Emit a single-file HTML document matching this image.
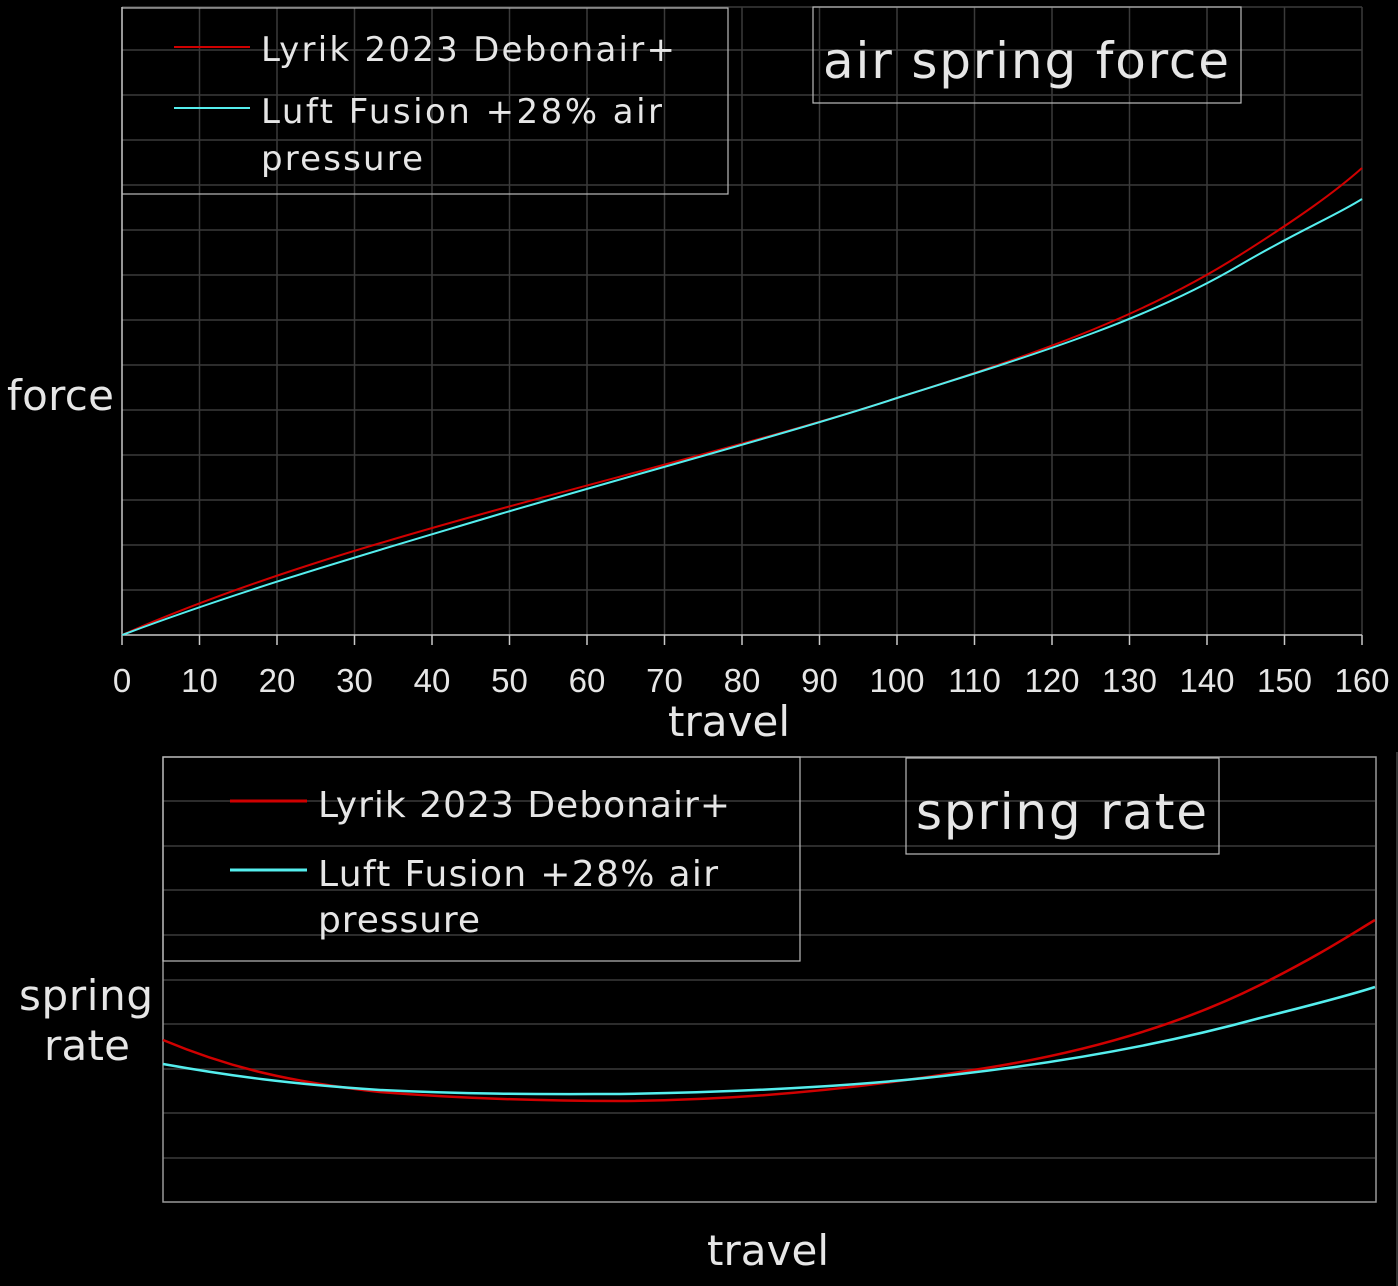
<!DOCTYPE html>
<html><head><meta charset="utf-8"><style>
html,body{margin:0;padding:0;background:#000;}
svg{display:block}
text{fill:#e6e6e6}
.v{font-family:"DejaVu Sans",Verdana,sans-serif}
.a{font-family:"Liberation Sans",Arial,sans-serif}
</style></head><body>
<svg width="1398" height="1286" viewBox="0 0 1398 1286" xmlns="http://www.w3.org/2000/svg">
<rect width="1398" height="1286" fill="#000"/>
<g stroke="#3a3a3a" stroke-width="1.5">
<path d="M122 590H1362M122 545H1362M122 500H1362M122 455H1362M122 410H1362M122 365H1362M122 320H1362M122 275H1362M122 230H1362M122 185H1362M122 140H1362M122 95H1362M122 50H1362M122 7H1362"/>
<path d="M199.5 7V635M277 7V635M354.5 7V635M432 7V635M509.5 7V635M587 7V635M664.5 7V635M742 7V635M819.5 7V635M897 7V635M974.5 7V635M1052 7V635M1129.5 7V635M1207 7V635M1284.5 7V635M1362 7V635"/>
</g>
<g stroke="#c8c8c8" stroke-width="1.5" fill="none">
<path d="M122 7V645M122 635H1362"/>
<path d="M199.5 635V645M277 635V645M354.5 635V645M432 635V645M509.5 635V645M587 635V645M664.5 635V645M742 635V645M819.5 635V645M897 635V645M974.5 635V645M1052 635V645M1129.5 635V645M1207 635V645M1284.5 635V645M1362 635V645"/>
</g>
<g class="a" font-size="33" text-anchor="middle">
<text x="122" y="692">0</text><text x="199.5" y="692">10</text><text x="277" y="692">20</text><text x="354.5" y="692">30</text><text x="432" y="692">40</text><text x="509.5" y="692">50</text><text x="587" y="692">60</text><text x="664.5" y="692">70</text><text x="742" y="692">80</text><text x="819.5" y="692">90</text><text x="897" y="692">100</text><text x="974.5" y="692">110</text><text x="1052" y="692">120</text><text x="1129.5" y="692">130</text><text x="1207" y="692">140</text><text x="1284.5" y="692">150</text><text x="1362" y="692">160</text>
</g>
<text class="v" x="668" y="736" font-size="42" textLength="122">travel</text>
<text class="v" x="7" y="410" font-size="42" textLength="107">force</text>
<path d="M122 635 C245 581 380 542 500 509 C650 468 800 430 900 397 C1050 350 1150 312 1240 255 C1300 217 1335 192 1362 168" stroke="#d00000" stroke-width="2" fill="none"/>
<path d="M122 635 C250 587 380 550 500 514 C650 470 800 430 900 397 C1050 350 1150 318 1240 265 C1300 230 1335 216 1362 199" stroke="#55eeee" stroke-width="2" fill="none"/>
<rect x="122" y="8" width="606" height="186" fill="none" stroke="#bbb" stroke-width="1.2"/>
<line x1="174" y1="47" x2="250" y2="47" stroke="#d00000" stroke-width="2"/>
<line x1="174" y1="108" x2="250" y2="108" stroke="#55eeee" stroke-width="2"/>
<g class="v" font-size="34"><text x="261" y="61" textLength="414">Lyrik 2023 Debonair+</text><text x="261" y="123" textLength="401">Luft Fusion +28% air</text><text x="261" y="170" textLength="162">pressure</text></g>
<rect x="813" y="7" width="428" height="96" fill="none" stroke="#bbb" stroke-width="1.2"/>
<text class="v" x="823" y="78" font-size="50" textLength="406">air spring force</text>

<g stroke="#3a3a3a" stroke-width="1.5">
<path d="M163 801H1375M163 846H1375M163 890H1375M163 935H1375M163 980H1375M163 1024H1375M163 1069H1375M163 1113H1375M163 1158H1375"/>
</g>
<rect x="163" y="757" width="1213" height="445" fill="none" stroke="#999" stroke-width="1.5"/>
<line x1="1397" y1="752" x2="1397" y2="1286" stroke="#444" stroke-width="1.5"/>
<path d="M163 1040 C230 1068 290 1082 380 1092 C480 1100 560 1101 620 1101 C760 1100 880 1085 960 1072 C1080 1055 1180 1025 1260 985 C1320 955 1350 935 1375 920" stroke="#d00000" stroke-width="2.5" fill="none"/>
<path d="M163 1064 C230 1076 290 1084 380 1090 C480 1095 560 1094 620 1094 C760 1092 880 1084 960 1074 C1080 1060 1180 1040 1260 1018 C1320 1003 1350 995 1375 987" stroke="#55eeee" stroke-width="2.5" fill="none"/>
<rect x="163" y="757" width="637" height="204" fill="none" stroke="#bbb" stroke-width="1.2"/>
<line x1="230" y1="801" x2="307" y2="801" stroke="#d00000" stroke-width="3"/>
<line x1="230" y1="870" x2="307" y2="870" stroke="#55eeee" stroke-width="3"/>
<g class="v" font-size="36"><text x="318" y="817" textLength="412">Lyrik 2023 Debonair+</text><text x="318" y="886" textLength="400">Luft Fusion +28% air</text><text x="318" y="932" textLength="162">pressure</text></g>
<rect x="906" y="758" width="313" height="96" fill="none" stroke="#bbb" stroke-width="1.2"/>
<text class="v" x="916" y="829" font-size="50" textLength="291">spring rate</text>
<text class="v" x="19" y="1010" font-size="42" textLength="134">spring</text>
<text class="v" x="44" y="1060" font-size="42" textLength="86">rate</text>
<text class="v" x="707" y="1265" font-size="42" textLength="122">travel</text>
</svg>
</body></html>
